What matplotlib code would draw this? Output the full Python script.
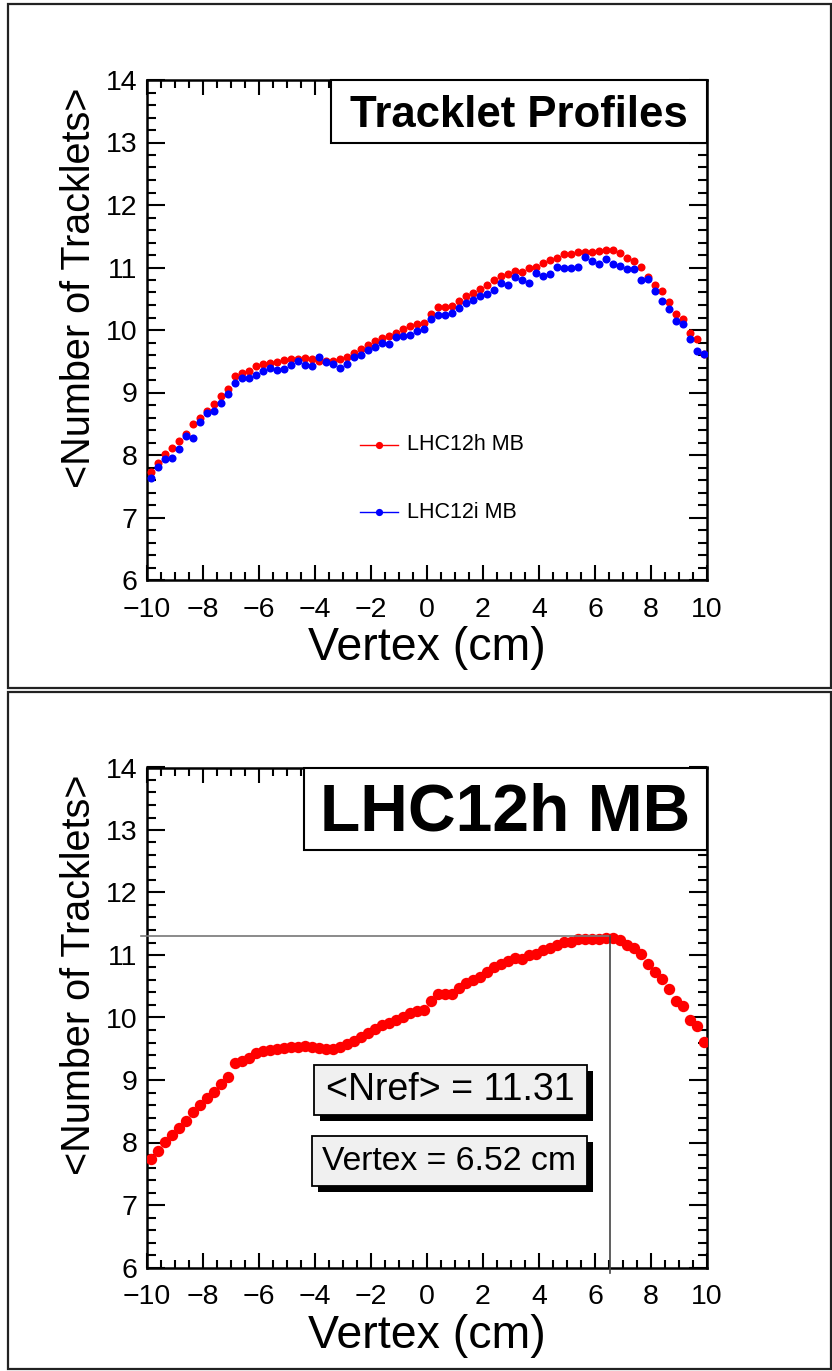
import numpy as np
import matplotlib
matplotlib.use("Agg")
import matplotlib.pyplot as plt
from matplotlib.patches import Rectangle
from matplotlib.ticker import MultipleLocator

plt.rcParams['font.family'] = ['Liberation Sans', 'DejaVu Sans']

# Vertex binning of the tracklet profiles (80 bins over -10..10 cm)
bin_edges = np.linspace(-10.0, 10.0, 81)
vertex = 0.5 * (bin_edges[:-1] + bin_edges[1:])

# <Number of Tracklets> per vertex bin
lhc12h_mb = [7.73, 7.87, 8.01, 8.12, 8.23, 8.34, 8.49, 8.60, 8.71, 8.81,
             8.94, 9.05, 9.27, 9.31, 9.35, 9.43, 9.46, 9.48, 9.49, 9.52,
             9.53, 9.53, 9.55, 9.53, 9.51, 9.50, 9.50, 9.53, 9.57, 9.63,
             9.69, 9.76, 9.82, 9.88, 9.91, 9.96, 10.01, 10.07, 10.10, 10.12,
             10.26, 10.37, 10.37, 10.38, 10.47, 10.55, 10.60, 10.65, 10.72, 10.80,
             10.86, 10.90, 10.95, 10.93, 11.00, 11.01, 11.08, 11.12, 11.16, 11.21,
             11.21, 11.25, 11.25, 11.25, 11.26, 11.28, 11.28, 11.24, 11.16, 11.11,
             11.01, 10.85, 10.72, 10.62, 10.45, 10.26, 10.18, 9.96, 9.86, 9.61]

lhc12i_mb = [7.63, 7.81, 7.93, 7.95, 8.10, 8.30, 8.28, 8.53, 8.68, 8.71,
             8.83, 8.97, 9.16, 9.24, 9.24, 9.28, 9.35, 9.39, 9.36, 9.38,
             9.44, 9.50, 9.44, 9.42, 9.57, 9.49, 9.46, 9.39, 9.46, 9.57,
             9.60, 9.68, 9.73, 9.79, 9.78, 9.89, 9.90, 9.92, 9.98, 10.02,
             10.17, 10.24, 10.24, 10.27, 10.36, 10.44, 10.48, 10.55, 10.58, 10.64,
             10.75, 10.72, 10.85, 10.80, 10.75, 10.92, 10.86, 10.90, 11.01, 11.00,
             10.99, 11.01, 11.17, 11.10, 11.05, 11.14, 11.05, 11.02, 10.98, 10.97,
             10.80, 10.82, 10.63, 10.47, 10.34, 10.15, 10.10, 9.85, 9.67, 9.62]

series_labels = ["LHC12h MB", "LHC12i MB"]
nref_value = 11.31
nref_vertex = 6.52

W, H = 832, 1371
fig = plt.figure(figsize=(W / 100, H / 100), dpi=100)


def fx(px):
    return px / W


def fy(py):
    return 1 - py / H


# Pad frames
for top, bot in [(4, 688), (692, 1369)]:
    fig.add_artist(Rectangle((fx(8), fy(bot)), fx(823), (bot - top) / H,
                             transform=fig.transFigure, fill=False,
                             edgecolor='#222222', linewidth=1.6))


def style_axes(ax):
    ax.set_xlim(-10, 10)
    ax.set_ylim(6, 14)
    ax.xaxis.set_major_locator(MultipleLocator(2))
    ax.xaxis.set_minor_locator(MultipleLocator(0.5))
    ax.yaxis.set_major_locator(MultipleLocator(1))
    ax.yaxis.set_minor_locator(MultipleLocator(0.2))
    ax.tick_params(which='both', direction='in', top=True, right=True,
                   width=1.5, colors='black')
    ax.tick_params(axis='x', which='major', length=11, labelsize=20.5, pad=12)
    ax.tick_params(axis='x', which='minor', length=6)
    ax.tick_params(axis='y', which='major', length=13, labelsize=20.5, pad=7)
    ax.tick_params(axis='y', which='minor', length=6.5)
    for s in ax.spines.values():
        s.set_linewidth(1.8)
    ax.text(0.5, -0.16, "Vertex (cm)", transform=ax.transAxes,
            ha='center', va='baseline', fontsize=33.5)
    ax.text(-0.121, 0.985, "<Number of Tracklets>", transform=ax.transAxes,
            rotation=90, ha='center', va='top', fontsize=28.5)


def title_box(ax, x0, y0, text, size):
    ax.add_patch(Rectangle((x0, y0), 1 - x0, 1 - y0, transform=ax.transAxes,
                           facecolor='white', edgecolor='black',
                           linewidth=1.5, zorder=5, clip_on=False))
    ax.text((x0 + 1) / 2, (y0 + 1) / 2 - 0.009, text, transform=ax.transAxes,
            ha='center', va='center', fontsize=size, fontweight='bold',
            zorder=6)


def pave(ax, x0, x1, y0, y1, text, size):
    dx, dy = 0.0107, 0.012
    ax.add_patch(Rectangle((x0 + dx, y0 - dy), x1 - x0, y1 - y0,
                           transform=ax.transAxes, facecolor='black',
                           edgecolor='none', zorder=5))
    ax.add_patch(Rectangle((x0, y0), x1 - x0, y1 - y0, transform=ax.transAxes,
                           facecolor='#f0f0f0', edgecolor='black',
                           linewidth=1.3, zorder=6))
    ax.text((x0 + x1) / 2, (y0 + y1) / 2, text, transform=ax.transAxes,
            ha='center', va='center', fontsize=size, zorder=7)


# ---- Upper pad: both periods ----
ax1 = fig.add_axes([fx(147), fy(580), 560 / W, 500 / H])
style_axes(ax1)
ax1.plot(vertex, lhc12h_mb, 'o', color='#ff0000', markersize=5.8,
         markeredgewidth=0, zorder=3)
ax1.plot(vertex, lhc12i_mb, 'o', color='#0000ff', markersize=5.8,
         markeredgewidth=0, zorder=4)
title_box(ax1, 0.328, 0.8746, "Tracklet Profiles", 31.5)

# legend entries
for yl, col, lab in [(0.27, '#ff0000', series_labels[0]),
                     (0.136, '#0000ff', series_labels[1])]:
    ax1.plot([0.3804, 0.4482], [yl, yl], color=col, linewidth=1.0,
             transform=ax1.transAxes)
    ax1.plot([0.4143], [yl], 'o', color=col, markersize=5.2,
             markeredgewidth=0, transform=ax1.transAxes)
    ax1.text(0.4643, yl, lab, transform=ax1.transAxes, ha='left',
             va='center', fontsize=15.5)

# ---- Lower pad: LHC12h with reference point ----
ax2 = fig.add_axes([fx(147), fy(1267.5), 560 / W, 500 / H])
style_axes(ax2)
ax2.plot(vertex, lhc12h_mb, 'o', color='#ff0000', markersize=8.2,
         markeredgewidth=0, zorder=3)
ax2.plot([-10.2, nref_vertex], [nref_value, nref_value], color='#777777',
         linewidth=1.2, clip_on=False, zorder=4)
ax2.plot([nref_vertex, nref_vertex], [nref_value, 5.92], color='#444444',
         linewidth=1.2, clip_on=False, zorder=4)
title_box(ax2, 0.2804, 0.835, series_labels[0], 47.5)
pave(ax2, 0.2982, 0.7857, 0.305, 0.405, f"<Nref> = {nref_value:.2f}", 27)
pave(ax2, 0.294, 0.785, 0.163, 0.263, f"Vertex = {nref_vertex:.2f} cm", 24.3)

fig.savefig("out.png", dpi=100)
